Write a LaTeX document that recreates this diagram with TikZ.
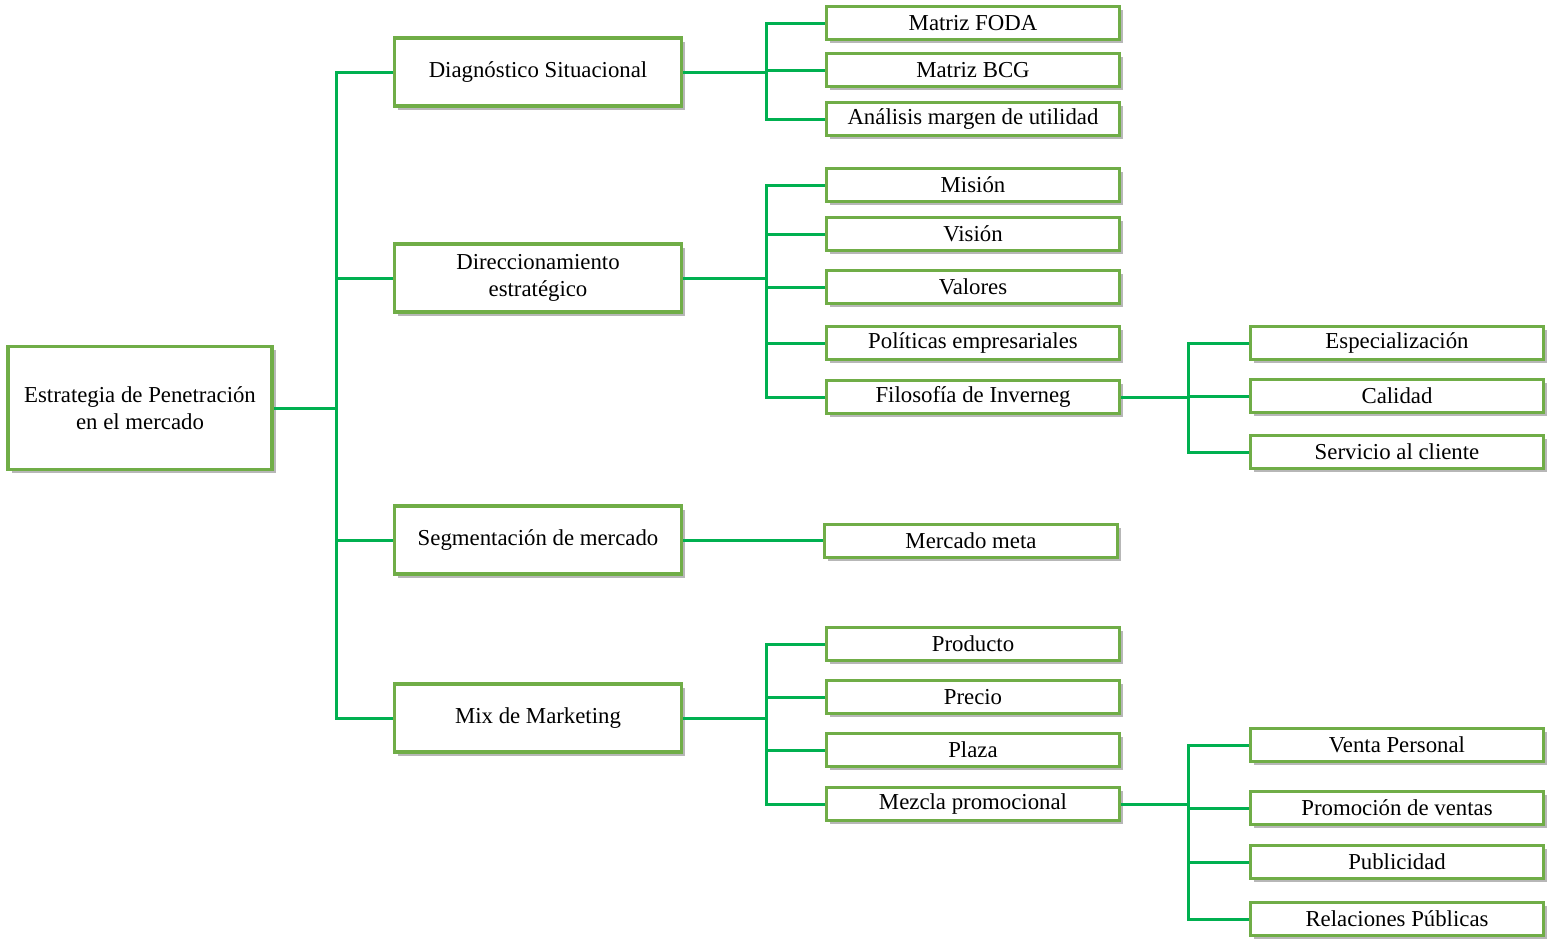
\documentclass[tikz,border=0pt]{standalone}
\usepackage{fontspec}
\setmainfont{Liberation Serif}
\usetikzlibrary{shadows}
\definecolor{cajaverde}{HTML}{70AD47}
\definecolor{lineaverde}{HTML}{00B050}
\tikzset{
  caja/.style={draw=cajaverde, line width=1.8pt, fill=white, align=center, inner sep=1pt,
    font=\fontsize{11.4}{13.6}\selectfont,
    drop shadow={shadow xshift=1.8pt, shadow yshift=-1.8pt, fill=black!40, opacity=0.7}},
  raiz/.style={caja, minimum width=132pt, minimum height=61.5pt},
  nivel/.style={caja, minimum width=143.5pt, minimum height=34pt},
  hoja/.style={caja, minimum width=146.5pt, minimum height=16.5pt},
  enlace/.style={lineaverde, line width=1.5pt}
}
\begin{document}
\begin{tikzpicture}[x=0.5pt, y=-0.5pt]
    \useasboundingbox (0,0) rectangle (1548,939);

    % Raiz y primer nivel
    \node[raiz] (raiz) at (140,408) {Estrategia de Penetración\\en el mercado};
    \node[nivel] (diag) at (538,72) {Diagnóstico Situacional};
    \node[nivel] (dir) at (538,278) {Direccionamiento\\estratégico};
    \node[nivel] (seg) at (538,540) {Segmentación de mercado};
    \node[nivel] (mix) at (538,718) {Mix de Marketing};

    % Segundo nivel
    \node[hoja] (foda) at (973,23) {Matriz FODA};
    \node[hoja] (bcg) at (973,70) {Matriz BCG};
    \node[hoja] (marg) at (973,119) {Análisis margen de utilidad};

    \node[hoja] (mis) at (973,185) {Misión};
    \node[hoja] (vis) at (973,234) {Visión};
    \node[hoja] (val) at (973,287) {Valores};
    \node[hoja] (pol) at (973,343) {Políticas empresariales};
    \node[hoja] (fil) at (973,397) {Filosofía de Inverneg};

    \node[hoja] (meta) at (971,541) {Mercado meta};

    \node[hoja] (prod) at (973,644) {Producto};
    \node[hoja] (prec) at (973,697) {Precio};
    \node[hoja] (plaz) at (973,750) {Plaza};
    \node[hoja] (mezc) at (973,804) {Mezcla promocional};

    % Tercer nivel
    \node[hoja] (esp) at (1397,343) {Especialización};
    \node[hoja] (cal) at (1397,396) {Calidad};
    \node[hoja] (serv) at (1397,452) {Servicio al cliente};

    \node[hoja] (vent) at (1397,745) {Venta Personal};
    \node[hoja] (prom) at (1397,808) {Promoción de ventas};
    \node[hoja] (pub) at (1397,862) {Publicidad};
    \node[hoja] (rel) at (1397,919) {Relaciones Públicas};

    % Barras verticales
    \coordinate (b0) at (336,408);
    \coordinate (b1) at (766,72);
    \coordinate (b2) at (766,278);
    \coordinate (b3) at (1188,397);
    \coordinate (b4) at (766,718);
    \coordinate (b5) at (1188,804);

    % Conectores
    \draw[enlace] (raiz.east) -- (b0);
    \foreach \n in {diag,dir,seg,mix} \draw[enlace] (b0) |- (\n.west);

    \draw[enlace] (diag.east) -- (b1);
    \foreach \n in {foda,bcg,marg} \draw[enlace] (b1) |- (\n.west);

    \draw[enlace] (dir.east) -- (b2);
    \foreach \n in {mis,vis,val,pol,fil} \draw[enlace] (b2) |- (\n.west);

    \draw[enlace] (seg.east) -- (seg.east -| meta.west);

    \draw[enlace] (fil.east) -- (b3);
    \foreach \n in {esp,cal,serv} \draw[enlace] (b3) |- (\n.west);

    \draw[enlace] (mix.east) -- (b4);
    \foreach \n in {prod,prec,plaz,mezc} \draw[enlace] (b4) |- (\n.west);

    \draw[enlace] (mezc.east) -- (b5);
    \foreach \n in {vent,prom,pub,rel} \draw[enlace] (b5) |- (\n.west);
\end{tikzpicture}
\end{document}
